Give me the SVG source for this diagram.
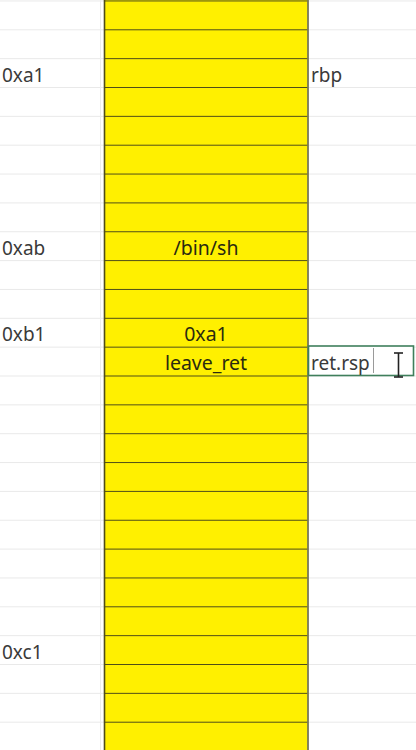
<svg xmlns="http://www.w3.org/2000/svg" width="416" height="750" viewBox="0 0 416 750">
<style>
.lbl{font-family:"Noto Sans","Open Sans","Liberation Sans",sans-serif;font-size:19px;fill:#3a3a3a;}
.cell{font-family:"Noto Sans","Open Sans","Liberation Sans",sans-serif;font-size:19.5px;fill:#2a2a10;text-anchor:middle;}
.grid{stroke:#e2e2e2;stroke-width:1.5;}
.yl{stroke:#4e4c18;stroke-width:1.8;}
</style>
<defs>
<pattern id="gridw" x="0" y="0.45" width="416" height="28.85" patternUnits="userSpaceOnUse">
<line x1="0" y1="0" x2="416" y2="0" class="grid"/>
</pattern>
<pattern id="gridy" x="0" y="0.45" width="416" height="28.85" patternUnits="userSpaceOnUse">
<line x1="0" y1="0" x2="416" y2="0" class="yl"/>
</pattern>
</defs>
<rect width="416" height="750" fill="#ffffff"/>
<g id="grid">
<rect x="0" y="0" width="416" height="750" fill="url(#gridw)"/>
<line x1="100.5" y1="0" x2="100.5" y2="750" stroke="#ececec" stroke-width="1"/>
</g>
<g id="stack">
<rect x="104" y="0" width="204" height="750" fill="#fff000"/>
<rect x="104" y="0" width="204" height="750" fill="url(#gridy)"/>
<line x1="104.5" y1="0" x2="104.5" y2="750" stroke="#4e4c1a" stroke-width="1.6"/>
<line x1="308" y1="0" x2="308" y2="750" stroke="#77775a" stroke-width="1.8"/>
</g>
<g id="addr-a1"><text class="lbl" x="2" y="81.5">0xa1</text></g>
<g id="addr-ab"><text class="lbl" x="2" y="254.5">0xab</text></g>
<g id="addr-b1"><text class="lbl" x="2" y="341">0xb1</text></g>
<g id="addr-c1"><text class="lbl" x="2" y="659">0xc1</text></g>
<g id="rbp"><text class="lbl" x="311" y="81.5">rbp</text></g>
<g id="binsh"><text class="cell" x="206" y="254.5">/bin/sh</text></g>
<g id="val-a1"><text class="cell" x="206" y="341">0xa1</text></g>
<g id="leave-ret"><text class="cell" x="206" y="370">leave_ret</text></g>
<g id="ret-rsp">
<rect x="308.5" y="346" width="105" height="29.5" fill="#ffffff" stroke="#3f7f5c" stroke-width="1.6"/>
<text class="lbl" x="311" y="370">ret.rsp</text>
<line x1="373.5" y1="348" x2="373.5" y2="373" stroke="#9a9a9a" stroke-width="1"/>
<g stroke="#222" stroke-width="1.6" fill="none">
<line x1="398.5" y1="353" x2="398.5" y2="377"/>
<line x1="394" y1="353" x2="403" y2="353"/>
<line x1="394" y1="377" x2="403" y2="377"/>
</g>
</g>
</svg>
